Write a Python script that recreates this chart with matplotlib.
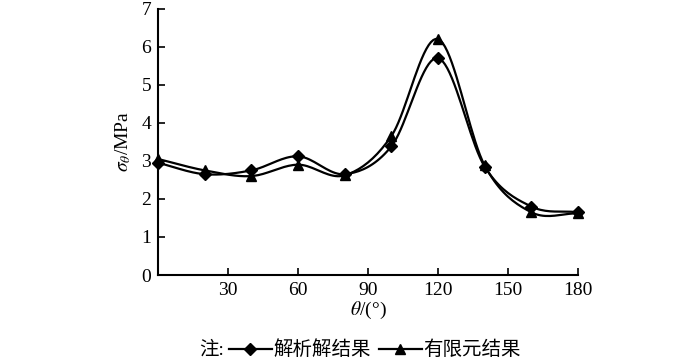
import numpy as np
import matplotlib
matplotlib.use('Agg')
import matplotlib.pyplot as plt

plt.rcParams['font.family'] = ['Liberation Serif', 'Noto Sans CJK SC', 'DejaVu Sans']
plt.rcParams['mathtext.fontset'] = 'stix'

theta = [0, 20, 40, 60, 80, 100, 120, 140, 160, 180]
analytic = [2.95, 2.65, 2.75, 3.12, 2.65, 3.38, 5.70, 2.85, 1.80, 1.65]
fem = [3.05, 2.75, 2.60, 2.90, 2.62, 3.65, 6.20, 2.88, 1.65, 1.62]
xticks = [30, 60, 90, 120, 150, 180]
yticks = [0, 1, 2, 3, 4, 5, 6, 7]


def smooth(x, y, n=20):
    # catmull-rom curve through the points, only for drawing the line
    x = np.asarray(x, float)
    y = np.asarray(y, float)
    px = np.concatenate([[2 * x[0] - x[1]], x, [2 * x[-1] - x[-2]]])
    py = np.concatenate([[2 * y[0] - y[1]], y, [2 * y[-1] - y[-2]]])
    xs, ys = [], []
    t = np.linspace(0, 1, n, endpoint=False)
    for i in range(1, len(px) - 2):
        for p, out in ((px, xs), (py, ys)):
            p0, p1, p2, p3 = p[i - 1], p[i], p[i + 1], p[i + 2]
            out.extend(0.5 * (2 * p1 + (-p0 + p2) * t
                              + (2 * p0 - 5 * p1 + 4 * p2 - p3) * t ** 2
                              + (-p0 + 3 * p1 - 3 * p2 + p3) * t ** 3))
    xs.append(x[-1])
    ys.append(y[-1])
    return xs, ys


fig = plt.figure(figsize=(7, 3.6), dpi=100)
ax = fig.add_axes([0.2257, 0.236, 0.6, 0.74])

sx, sy = smooth(theta, analytic)
ax.plot(sx, sy, color='black', lw=1.6, clip_on=False)
ax.plot(theta, analytic, 'D', color='black', ms=6.5, clip_on=False, zorder=3)
sx, sy = smooth(theta, fem)
ax.plot(sx, sy, color='black', lw=1.6, clip_on=False)
ax.plot(theta, fem, '^', color='black', ms=7.5, clip_on=False, zorder=3)

ax.set_xlim(0, 180)
ax.set_ylim(0, 7)
ax.set_xticks(xticks)
ax.set_yticks(yticks)
ax.tick_params(direction='in', labelsize=14, length=5, width=1.2, pad=5)
for s in ['top', 'right']:
    ax.spines[s].set_visible(False)
for s in ['left', 'bottom']:
    ax.spines[s].set_linewidth(1.5)

ax.set_xlabel(r'$\theta$/(°)', fontsize=14, labelpad=1)
ax.set_ylabel(r'$\sigma_\theta$/MPa', fontsize=14, labelpad=6)

# legend at the bottom: "注:" then the two line+marker entries
h1, = ax.plot([], [], '-D', color='black', lw=1.6, ms=6)
h2, = ax.plot([], [], '-^', color='black', lw=1.6, ms=7)
fig.text(0.285, 0.028, '注:', fontsize=14, ha='left', va='center')
fig.legend([h1, h2], ['解析解结果', '有限元结果'], loc='center left',
           bbox_to_anchor=(0.313, 0.028), ncol=2, frameon=False,
           fontsize=14, handlelength=2.2, handletextpad=0.1,
           columnspacing=0.4, borderpad=0)

fig.savefig('out.png', dpi=100)
